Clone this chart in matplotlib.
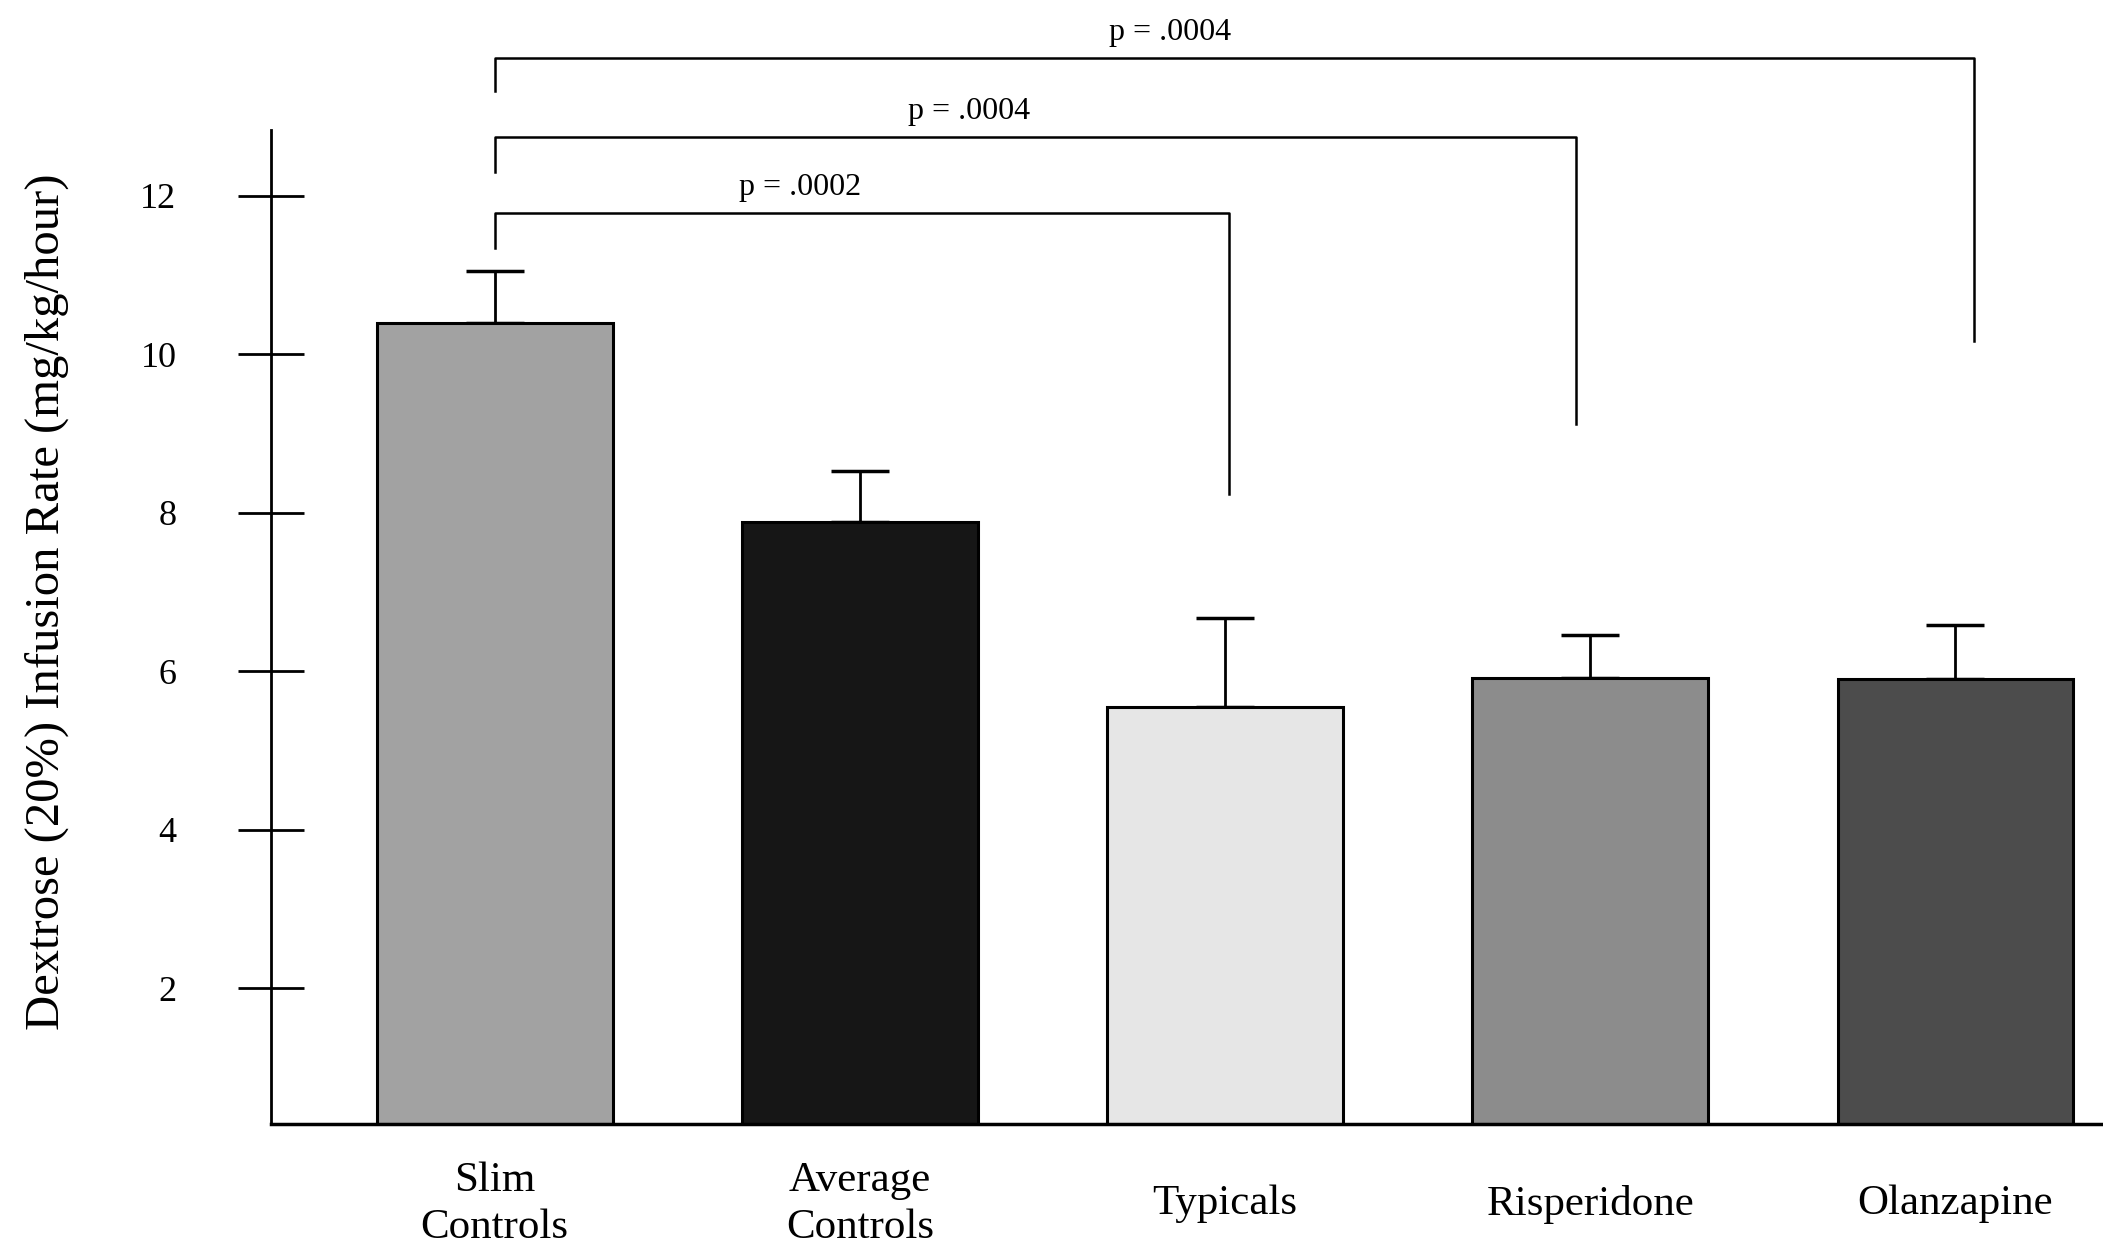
import matplotlib
matplotlib.use("Agg")
import matplotlib.pyplot as plt

plt.rcParams['font.family'] = ['Liberation Serif', 'DejaVu Serif']

groups = ["Slim\nControls", "Average\nControls", "Typicals", "Risperidone", "Olanzapine"]
means = [10.40, 7.88, 5.55, 5.92, 5.90]
errs = [0.65, 0.65, 1.12, 0.54, 0.68]
colors = ["#a2a2a2", "#161616", "#e6e6e6", "#8c8c8c", "#4c4c4c"]

# significance brackets: from group 0 to another group
br_to = [2, 3, 4]
br_p = ["p = .0002", "p = .0004", "p = .0004"]
br_top = [11.79, 12.74, 13.74]
br_left_end = [11.34, 12.30, 13.32]
br_right_end = [8.24, 9.12, 10.17]

fig = plt.figure(figsize=(21.03, 12.51), dpi=100)
ax = fig.add_axes([0.1288, 0.1018, 0.8712, 0.7942])

x = list(range(len(groups)))
ax.bar(x, means, width=0.646, color=colors, edgecolor="black", linewidth=2.2, zorder=2)
ax.errorbar(x, means, yerr=[[0] * len(errs), errs], fmt="none", ecolor="black",
            elinewidth=2, capsize=21, capthick=2.5, zorder=1)

ax.set_xlim(-0.613, 4.404)
ax.set_ylim(0.29, 12.83)

ax.spines["top"].set_visible(False)
ax.spines["right"].set_visible(False)
ax.spines["left"].set_linewidth(2)
ax.spines["bottom"].set_linewidth(2.5)

ax.set_yticks([2, 4, 6, 8, 10, 12])
ax.tick_params(axis="y", direction="inout", length=48, width=2, pad=44, labelsize=26)
ax.set_xticks(x)
ax.set_xticklabels(groups, fontsize=31, linespacing=1.3)
ax.tick_params(axis="x", length=0, pad=58)
for lab in ax.get_xticklabels():
    lab.set_va("center")

fig.text(47 / 2103, 0.519, "Dextrose (20%) Infusion Rate (mg/kg/hour)", rotation=90,
         ha="center", va="center", fontsize=35)

# brackets
right_x = [2.01, 2.96, 4.05]
text_x = [0.837, 1.30, 1.85]
for i in range(len(br_to)):
    ax.plot([0, 0, right_x[i], right_x[i]],
            [br_left_end[i], br_top[i], br_top[i], br_right_end[i]],
            color="black", linewidth=1.8, clip_on=False)
    ax.text(text_x[i], br_top[i] + 0.32, br_p[i], ha="center", va="center",
            fontsize=23, clip_on=False)

fig.savefig("out.png", dpi=100)
